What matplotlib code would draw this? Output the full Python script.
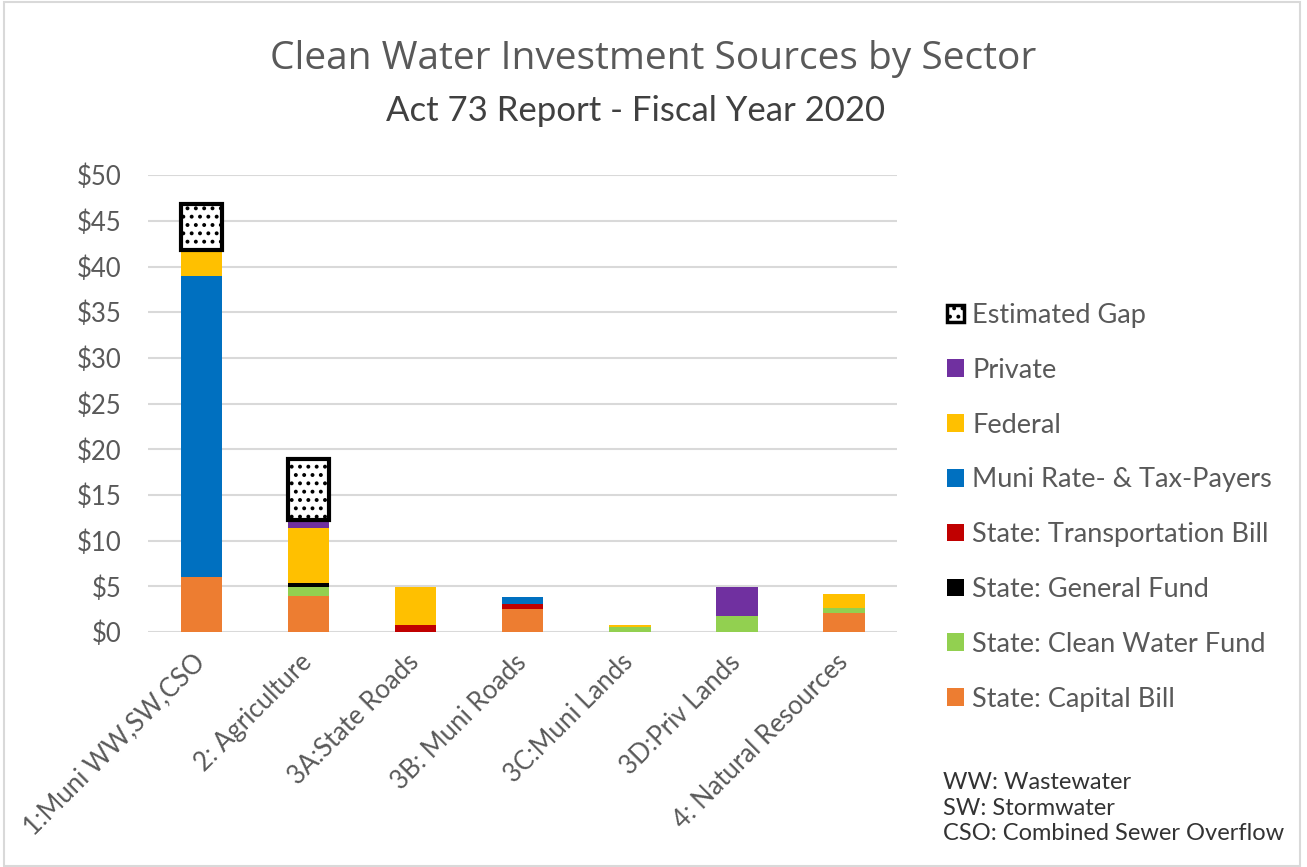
"""Clean water investment sources by sector, stacked bars."""
import matplotlib
matplotlib.use("Agg")
import matplotlib.pyplot as plt
from matplotlib.patches import Patch, Rectangle
import numpy as np

OUTPUT_PATH = "out.png"

categories = [
    "1:Muni WW,SW,CSO",
    "2: Agriculture",
    "3A:State Roads",
    "3B: Muni Roads",
    "3C:Muni Lands",
    "3D:Priv Lands",
    "4: Natural Resources",
]

# $ millions, stacked bottom to top
capital_bill = [6.0, 3.9, 0.0, 2.5, 0.0, 0.0, 2.1]
clean_water_fund = [0.0, 1.0, 0.0, 0.0, 0.6, 1.75, 0.5]
general_fund = [0.0, 0.5, 0.0, 0.0, 0.0, 0.0, 0.0]
transportation_bill = [0.0, 0.0, 0.8, 0.55, 0.0, 0.0, 0.0]
muni_payers = [33.0, 0.0, 0.0, 0.8, 0.0, 0.0, 0.0]
federal = [2.8, 6.0, 4.15, 0.0, 0.15, 0.0, 1.6]
private = [0.0, 0.9, 0.0, 0.0, 0.0, 3.2, 0.0]
estimated_gap = [5.0, 6.6, 0.0, 0.0, 0.0, 0.0, 0.0]

y_ticks = [0, 5, 10, 15, 20, 25, 30, 35, 40, 45, 50]

series = [
    ("State: Capital Bill", capital_bill, "#ED7D31"),
    ("State: Clean Water Fund", clean_water_fund, "#92D050"),
    ("State: General Fund", general_fund, "#000000"),
    ("State: Transportation Bill", transportation_bill, "#C00000"),
    ("Muni Rate- & Tax-Payers", muni_payers, "#0070C0"),
    ("Federal", federal, "#FFC000"),
    ("Private", private, "#7030A0"),
]

TEXT_GREY = "#595959"
FONT = "Lato"
plt.rcParams["font.family"] = [FONT, "DejaVu Sans"]
plt.rcParams["hatch.linewidth"] = 1.6

fig = plt.figure(figsize=(13.07, 8.67), dpi=100)
ax = fig.add_axes([0.1132, 0.271, 0.5733, 0.527])

x = np.arange(len(categories))
width = 0.39
bottom = np.zeros(len(categories))
handles = []
for label, values, color in series:
    vals = np.array(values)
    ax.bar(x, vals, width, bottom=bottom, color=color, linewidth=0, zorder=3)
    bottom += vals
    handles.append(Patch(facecolor=color, label=label))

gap = np.array(estimated_gap)
mask = gap > 0
ax.bar(x[mask], gap[mask], width, bottom=bottom[mask], facecolor="white",
       edgecolor="black", linewidth=3, hatch="..", zorder=3)
handles.append(Patch(facecolor="white", edgecolor="black", linewidth=2.5,
                     hatch="..", label="Estimated Gap"))

ax.set_xlim(-0.5, len(categories) - 0.5)
ax.set_ylim(0, 50)
ax.set_yticks(y_ticks)
ax.set_yticklabels([f"${v}" for v in y_ticks], fontsize=18.5, color=TEXT_GREY)
ax.set_xticks(x)
ax.set_xticklabels(categories, fontsize=18.5, color=TEXT_GREY, rotation=45,
                   ha="right", va="center", rotation_mode="anchor")
ax.tick_params(axis="both", length=0)
ax.tick_params(axis="y", pad=19)
ax.tick_params(axis="x", pad=19)
ax.grid(axis="y", color="#D9D9D9", linewidth=1.5, zorder=0)
for spine in ax.spines.values():
    spine.set_visible(False)

fig.text(0.5, 0.932, "Clean Water Investment Sources by Sector", ha="center",
         va="center", fontsize=28, color=TEXT_GREY, family="Open Sans")
fig.text(0.486, 0.872, "Act 73 Report - Fiscal Year 2020", ha="center",
         va="center", fontsize=25, color="#404040")

leg = fig.legend(handles=handles[::-1], loc="upper left",
                 bbox_to_anchor=(0.7165, 0.663), frameon=False, fontsize=19.5,
                 labelcolor=TEXT_GREY, handlelength=0.62, handleheight=0.62,
                 handletextpad=0.3, labelspacing=1.1, borderaxespad=0)

fig.text(0.7215, 0.068, "WW: Wastewater\nSW: Stormwater\nCSO: Combined Sewer Overflow",
         ha="left", va="center", fontsize=17, color="#333333", linespacing=1.24)

fig.patches.append(Rectangle((0.003, 0.001), 0.992, 0.997, transform=fig.transFigure,
                             fill=False, edgecolor="#D9D9D9", linewidth=1.5))

fig.savefig(OUTPUT_PATH, dpi=100)
plt.close(fig)
print(f"Saved: {OUTPUT_PATH}")
